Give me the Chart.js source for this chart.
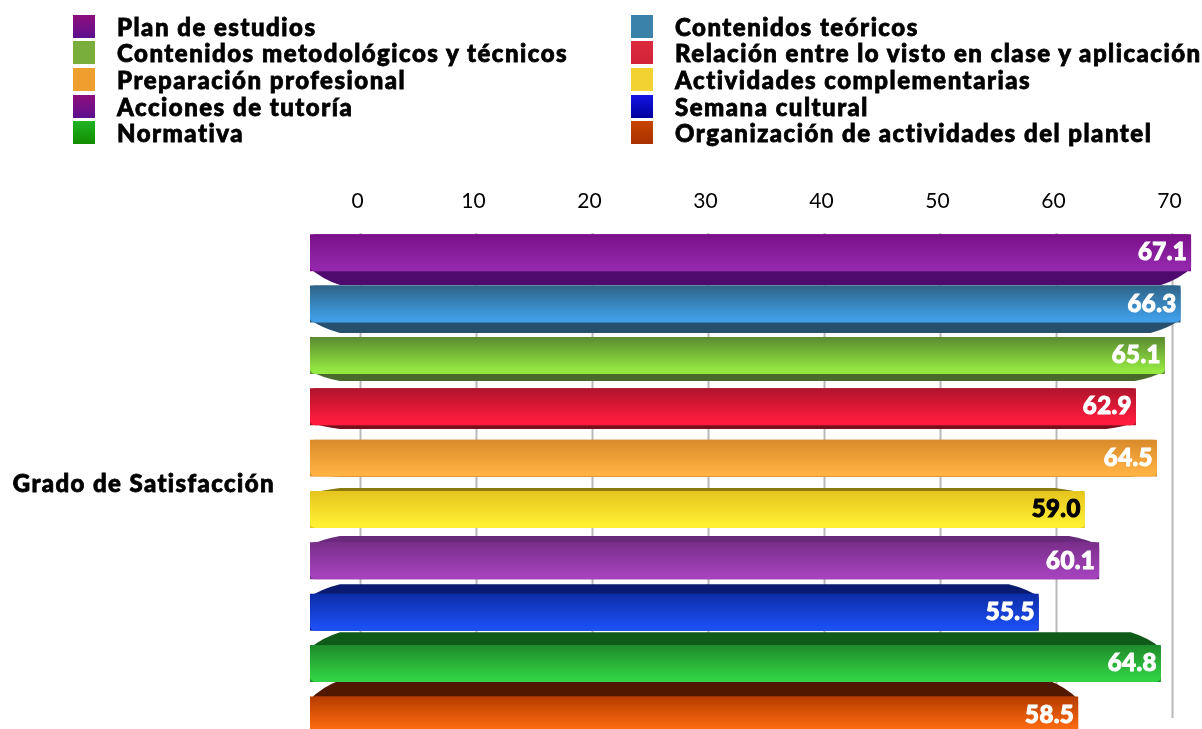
<!DOCTYPE html>
<html>
<head>
<meta charset="utf-8">
<title>Grado de Satisfacción</title>
<script src="https://cdn.jsdelivr.net/npm/chart.js@4"></script>
<style>
  html, body { margin: 0; padding: 0; background: #fff; overflow: hidden; width: 1202px; height: 729px; }
  #chart { position: absolute; left: 0; top: 0; }
  #legend { position: absolute; left: 73px; top: 13px; display: grid; grid-template-columns: 558px 530px; grid-auto-rows: 26.6px; }
  .item { display: flex; align-items: center; white-space: nowrap; font: 900 24px Lato, sans-serif; letter-spacing: 1.5px; -webkit-text-stroke: 0.8px #000; color: #000; }
  .swatch { width: 22px; height: 23px; margin-right: 22px; flex: none; }
</style>
</head>
<body>
<canvas id="chart" width="1202" height="782"></canvas>
<div id="legend"></div>
<script>
// Values
const categories = ['Grado de Satisfacción'];
const seriesNames = [
    'Plan de estudios',
    'Contenidos teóricos',
    'Contenidos metodológicos y técnicos',
    'Relación entre lo visto en clase y aplicación',
    'Preparación profesional',
    'Actividades complementarias',
    'Acciones de tutoría',
    'Semana cultural',
    'Normativa',
    'Organización de actividades del plantel'
];
const seriesValues = [67.1, 66.3, 65.1, 62.9, 64.5, 59.0, 60.1, 55.5, 64.8, 58.5];
const tickValues = [0, 10, 20, 30, 40, 50, 60, 70];

// Colours: dark end of the face, light end of the face, depth band, legend swatch top/bottom
const faceDark = ['#7a1088', '#2f6488', '#5a8a30', '#b0142c', '#d98a2a', '#e6c41e', '#7a2e8a', '#0c2ca6', '#1e8a2a', '#b53c00'];
const faceLight = ['#9428ac', '#3f9ee6', '#94e842', '#ff1c3e', '#ffb242', '#fff032', '#a442bc', '#1c4ef2', '#32d244', '#ff6c10'];
const bandColors = ['#4e0a6c', '#27506f', '#4a6a2c', '#7a0f1e', '#a8701f', '#8a7a10', '#6a2a7c', '#0a1a70', '#0f5a18', '#501800'];
const swatchTop = ['#8e0f7c', '#3a82aa', '#7aae3c', '#dc2a3c', '#ee9f2e', '#f2d232', '#8e0f7c', '#1414e6', '#20b424', '#c84400'];
const swatchBottom = ['#5e108e', '#3a82aa', '#7aae3c', '#d0243a', '#ee9f2e', '#f2d232', '#5e108e', '#00009c', '#128c00', '#a83000'];
const labelColors = ['#fff', '#fff', '#fff', '#fff', '#fff', '#000', '#fff', '#fff', '#fff', '#fff'];

// The bars and the printed axis do not share a scale in the original
const barAxisMax = 67.78;
const tickAxisMin = -4.353;
const tickAxisMax = 72.37;

// Grid lines, drawn behind the bars
const gridPlugin = {
    id: 'gridLines',
    beforeDatasetsDraw(chart) {
        const ctx = chart.ctx;
        const scale = chart.scales.xTicks;
        ctx.save();
        ctx.strokeStyle = '#b8b8b8';
        ctx.lineWidth = 2;
        tickValues.forEach(v => {
            const x = scale.getPixelForValue(v);
            ctx.beginPath();
            ctx.moveTo(x, chart.chartArea.top + 6);
            ctx.lineTo(x, 718);
            ctx.stroke();
        });
        ctx.restore();
    },
    afterDatasetsDraw(chart) {
        // only the y label (ticks.z 1) is drawn after this point
        chart.ctx.letterSpacing = '1.4px';
    }
};

// Perspective look: depth band above or below the face, shaded face, value label
const bevelPlugin = {
    id: 'bevel',
    beforeDatasetDraw(chart, args) {
        const bar = chart.getDatasetMeta(args.index).data[0];
        const ctx = chart.ctx;
        const top = bar.y - bar.height / 2;
        const bottom = bar.y + bar.height / 2;
        const depth = (bar.y - 465) * 0.065;
        const edge = depth > 0 ? top + 3 : bottom - 3;
        const outer = depth > 0 ? top - depth : bottom - depth;
        const bulge = outer + (edge - outer) * 0.35;
        ctx.save();
        ctx.fillStyle = bandColors[args.index];
        ctx.beginPath();
        ctx.moveTo(bar.base, edge);
        ctx.quadraticCurveTo(bar.base + 12, bulge, bar.base + 30, outer);
        ctx.lineTo(bar.x - 30, outer);
        ctx.quadraticCurveTo(bar.x - 12, bulge, bar.x, edge);
        ctx.closePath();
        ctx.fill();
        ctx.restore();
    },
    afterDatasetDraw(chart, args) {
        const i = args.index;
        const bar = chart.getDatasetMeta(i).data[0];
        const ctx = chart.ctx;
        const top = bar.y - bar.height / 2;
        const shade = ctx.createLinearGradient(0, top, 0, top + bar.height);
        shade.addColorStop(0, faceDark[i]);
        shade.addColorStop(0.9, faceLight[i]);
        shade.addColorStop(1, faceLight[i]);
        ctx.save();
        ctx.fillStyle = shade;
        ctx.beginPath();
        ctx.roundRect(bar.base, top, bar.x - bar.base, bar.height, 5);
        ctx.fill();
        ctx.fillStyle = labelColors[i];
        ctx.strokeStyle = labelColors[i];
        ctx.lineWidth = 1;
        ctx.letterSpacing = '0.4px';
        ctx.font = '900 24px Lato, sans-serif';
        ctx.textAlign = 'right';
        ctx.textBaseline = 'middle';
        ctx.fillText(seriesValues[i].toFixed(1), bar.x - 4, bar.y);
        ctx.strokeText(seriesValues[i].toFixed(1), bar.x - 4, bar.y);
        ctx.restore();
    }
};

const htmlLegend = {
    id: 'htmlLegend',
    afterUpdate(chart) {
        const box = document.getElementById('legend');
        box.innerHTML = '';
        chart.data.datasets.forEach((ds, i) => {
            const item = document.createElement('div');
            item.className = 'item';
            const swatch = document.createElement('span');
            swatch.className = 'swatch';
            swatch.style.background = 'linear-gradient(' + swatchTop[i] + ',' + swatchBottom[i] + ')';
            item.appendChild(swatch);
            item.appendChild(document.createTextNode(ds.label));
            box.appendChild(item);
        });
    }
};

const datasets = seriesNames.map((name, i) => ({
    label: name,
    data: [seriesValues[i]],
    backgroundColor: faceDark[i],
    xAxisID: 'x',
    categoryPercentage: 1,
    barPercentage: 0.72
}));

new Chart(document.getElementById('chart').getContext('2d'), {
    type: 'bar',
    data: { labels: categories, datasets: datasets },
    plugins: [gridPlugin, bevelPlugin, htmlLegend],
    options: {
        indexAxis: 'y',
        responsive: false,
        animation: false,
        layout: { padding: { right: 2, bottom: 19 } },
        plugins: {
            legend: { display: false },
            tooltip: { enabled: false }
        },
        scales: {
            x: { display: false, min: 0, max: barAxisMax },
            xTicks: {
                type: 'linear',
                position: 'top',
                min: tickAxisMin,
                max: tickAxisMax,
                afterBuildTicks(scale) {
                    scale.ticks = tickValues.map(v => ({ value: v }));
                },
                afterFit(scale) {
                    scale.height = 227;
                },
                border: { display: false },
                grid: { display: false },
                ticks: {
                    color: '#000',
                    font: { family: 'Lato', size: 21 },
                    padding: 5,
                    labelOffset: -3,
                    maxRotation: 0
                }
            },
            y: {
                afterFit(scale) {
                    scale.width = 310;
                },
                border: { display: false },
                grid: { display: false },
                ticks: {
                    z: 1,
                    color: '#000',
                    font: { family: 'Lato', size: 24, weight: '900' },
                    textStrokeColor: '#000',
                    textStrokeWidth: 0.8,
                    padding: 27
                }
            }
        }
    }
});
</script>
</body>
</html>
